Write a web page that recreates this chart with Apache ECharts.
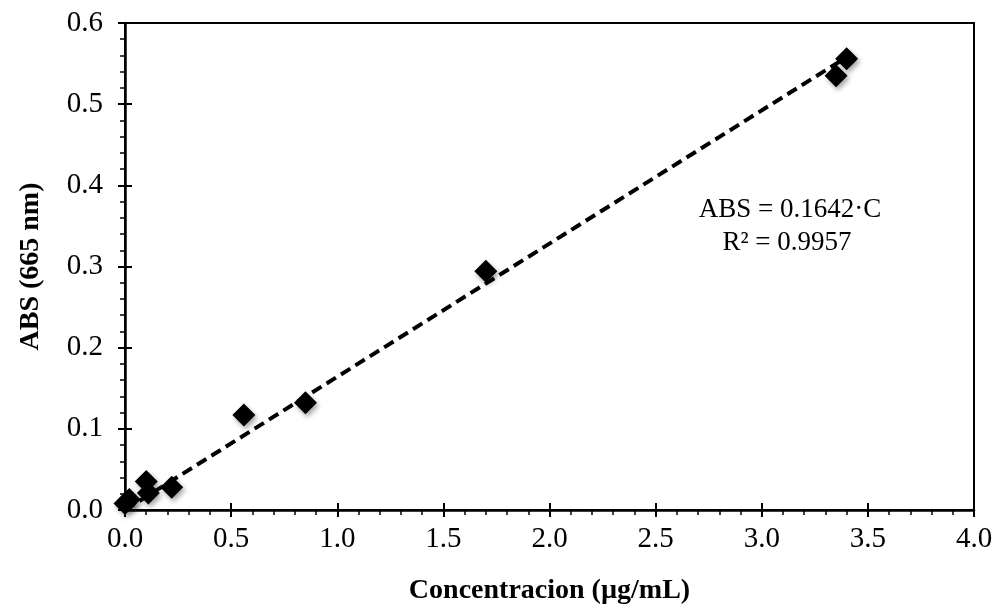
<!DOCTYPE html>
<html>
<head>
<meta charset="utf-8">
<script src="https://cdn.jsdelivr.net/npm/echarts@6/dist/echarts.min.js"></script>
<style>html,body{margin:0;padding:0;background:#fff}#c{width:996px;height:610px}</style>
</head>
<body>
<div id="c"></div>
<script>
// Data
const concentration = [0.00, 0.02, 0.10, 0.11, 0.22, 0.56, 0.85, 1.70, 3.35, 3.40];
const absorbance    = [0.008, 0.013, 0.035, 0.021, 0.028, 0.117, 0.132, 0.294, 0.535, 0.556];
const trendX = [0, 3.40];
const trendY = [0, 0.558];
const xTitle = 'Concentracion (µg/mL)';
const yTitle = 'ABS (665 nm)';
const equationLines = ['ABS = 0.1642·C', 'R² = 0.9957'];

const font = '"Liberation Serif","Times New Roman",serif';
const chart = echarts.init(document.getElementById('c'), null, {renderer: 'canvas'});

const points = concentration.map((x, i) => [x, absorbance[i]]);
const trend = trendX.map((x, i) => [x, trendY[i]]);

const baseX = {
  type: 'value', min: 0, max: 4, interval: 0.5,
  splitLine: {show: false}
};
const baseY = {
  type: 'value', min: 0, max: 0.6, interval: 0.1,
  splitLine: {show: false}
};

chart.setOption({
  animation: false,
  backgroundColor: '#fff',
  grid: {left: 125, right: 22, top: 23, bottom: 100, show: true, borderColor: '#000', borderWidth: 2, containLabel: false},
  xAxis: [
    Object.assign({}, baseX, {
      name: xTitle, nameLocation: 'middle', nameGap: 67,
      nameTextStyle: {fontFamily: font, fontSize: 28, fontWeight: 'bold', color: '#000'},
      axisLine: {show: true, onZero: false, lineStyle: {color: '#000', width: 2.5}},
      axisTick: {show: true, inside: false, length: 7, lineStyle: {color: '#000', width: 2}},
      minorTick: {show: true, splitNumber: 5, length: 5, lineStyle: {color: '#000', width: 1.5}},
      axisLabel: {margin: 15, fontFamily: font, fontSize: 29, color: '#000', formatter: v => v.toFixed(1)}
    }),
    Object.assign({}, baseX, {
      position: 'bottom',
      axisLine: {show: false, onZero: false},
      axisTick: {show: true, inside: true, length: 7, lineStyle: {color: '#000', width: 2}},
      axisLabel: {show: false}
    })
  ],
  yAxis: [
    Object.assign({}, baseY, {
      name: yTitle, nameLocation: 'middle', nameGap: 80,
      nameTextStyle: {fontFamily: font, fontSize: 28, fontWeight: 'bold', color: '#000'},
      axisLine: {show: true, onZero: false, lineStyle: {color: '#000', width: 2.5}},
      axisTick: {show: true, inside: false, length: 7, lineStyle: {color: '#000', width: 2}},
      minorTick: {show: true, splitNumber: 5, length: 5, lineStyle: {color: '#000', width: 1.5}},
      axisLabel: {margin: 22, fontFamily: font, fontSize: 29, color: '#000', formatter: v => v.toFixed(1)}
    }),
    Object.assign({}, baseY, {
      position: 'left',
      axisLine: {show: false, onZero: false},
      axisTick: {show: true, inside: true, length: 7, lineStyle: {color: '#000', width: 2}},
      axisLabel: {show: false}
    })
  ],
  series: [
    {
      type: 'line', data: trend, showSymbol: false, symbol: 'none',
      lineStyle: {color: '#000', width: 4, type: [11, 6]}, z: 2
    },
    {
      type: 'scatter', data: points, symbol: 'diamond', symbolSize: 23,
      itemStyle: {color: '#000', opacity: 1, shadowBlur: 5, shadowColor: 'rgba(0,0,0,0.35)', shadowOffsetX: 2, shadowOffsetY: 3},
      z: 3
    }
  ],
  graphic: [
    {
      type: 'text', x: 790, y: 210, z: 10,
      style: {text: equationLines[0], font: '27px ' + font, fill: '#000', align: 'center', verticalAlign: 'middle'}
    },
    {
      type: 'text', x: 787, y: 243, z: 10,
      style: {text: equationLines[1], font: '27px ' + font, fill: '#000', align: 'center', verticalAlign: 'middle'}
    }
  ]
});
</script>
</body>
</html>
